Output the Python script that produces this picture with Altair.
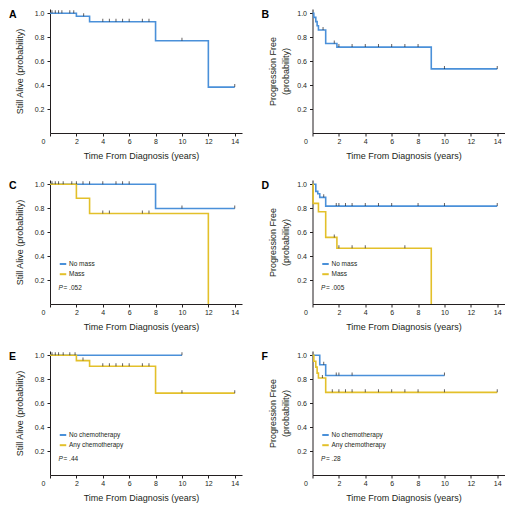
import altair as alt
import pandas as pd

FONT = "Liberation Sans, Arial, sans-serif"
BLUE = "#4a90d9"
YELLOW = "#e3c02a"
INK = "#231f20"

X_TICKS = [0, 2, 4, 6, 8, 10, 12, 14]
Y_TICKS = [0.2, 0.4, 0.6, 0.8, 1.0]
X_TITLE = "Time From Diagnosis (years)"
OS_TITLE = "Still Alive (probability)"
PFS_TITLE = ["Progression Free", "(probability)"]

# ---- Panel A: overall survival
A_time = [0, 2, 3, 8, 12, 14]
A_surv = [1.0, 0.975, 0.928, 0.77, 0.383, 0.383]
A_cens = [0.15, 0.4, 0.65, 0.9, 1.5, 1.8, 2.55, 4, 4.5, 5, 5.5, 6, 7, 7.5, 10, 14]

# ---- Panel B: overall progression-free
B_time = [0, 0.1, 0.25, 0.35, 0.45, 1.0, 1.85, 9, 14]
B_surv = [1.0, 0.965, 0.93, 0.895, 0.86, 0.747, 0.717, 0.535, 0.535]
B_cens = [0.8, 1.65, 2, 3, 4, 5, 6, 7, 8, 10, 14]

# ---- Panel C: survival by mass
C_groups = ["No mass", "Mass"]
C_nomass_time = [0, 8, 14]
C_nomass_surv = [1.0, 0.797, 0.797]
C_nomass_cens = [0.15, 0.4, 0.65, 1.0, 1.65, 2.0, 2.5, 3, 4, 5, 5.5, 6, 10, 14]
C_mass_time = [0, 2, 3, 12]
C_mass_surv = [1.0, 0.883, 0.756, 0.0]
C_mass_cens = [4, 4.5, 7, 7.5]
C_p = ".052"

# ---- Panel D: progression-free by mass
D_nomass_time = [0, 0.25, 0.4, 0.55, 1.0, 14]
D_nomass_surv = [1.0, 0.94, 0.92, 0.89, 0.817, 0.817]
D_nomass_cens = [0.85, 1.8, 2, 2.5, 3, 4, 5, 6, 8, 10, 14]
D_mass_time = [0, 0.05, 0.45, 1.0, 1.85, 9]
D_mass_surv = [1.0, 0.84, 0.77, 0.556, 0.465, 0.0]
D_mass_cens = [1.65, 2, 3, 4, 7]
D_p = ".005"

# ---- Panel E: survival by chemotherapy
E_groups = ["No chemotherapy", "Any chemotherapy"]
E_nochemo_time = [0, 10]
E_nochemo_surv = [1.0, 1.0]
E_nochemo_cens = [0.4, 1.0, 10]
E_chemo_time = [0, 2, 3, 8, 14]
E_chemo_surv = [1.0, 0.955, 0.908, 0.683, 0.683]
E_chemo_cens = [0.15, 0.65, 1.5, 1.9, 2.5, 4, 4.5, 5, 5.5, 6, 7, 7.5, 10, 14]
E_p = ".44"

# ---- Panel F: progression-free by chemotherapy
F_nochemo_time = [0, 0.55, 1.0, 10]
F_nochemo_surv = [1.0, 0.92, 0.83, 0.83]
F_nochemo_cens = [0.85, 1.8, 2, 3, 10]
F_chemo_time = [0, 0.1, 0.25, 0.35, 0.45, 1.0, 14]
F_chemo_surv = [1.0, 0.95, 0.9, 0.85, 0.81, 0.69, 0.69]
F_chemo_cens = [0.75, 1.5, 2, 2.5, 3, 4, 5, 6, 7, 8, 10, 14]
F_p = ".28"

W, H = 192, 124
XDOM = [0, 14.55]
YDOM = [0, 1.035]


def step_value(c, times, survs):
    s = survs[0]
    for t, v in zip(times, survs):
        if t <= c:
            s = v
    return s


def build(series):
    lines, ticks = [], []
    for name, times, survs, cens in series:
        lines.append(pd.DataFrame({"t": times, "s": survs, "g": name}))
        ticks.append(pd.DataFrame({"t": cens,
                                   "s": [step_value(c, times, survs) for c in cens],
                                   "g": name}))
    return pd.concat(lines, ignore_index=True), pd.concat(ticks, ignore_index=True)


def panel(series, label, ytitle, label_dx, ypad, groups=None, pval=None):
    line_df, tick_df = build(series)
    xenc = alt.X("t:Q", scale=alt.Scale(domain=XDOM, nice=False, zero=False),
                 axis=alt.Axis(values=X_TICKS, title=X_TITLE, format="d",
                               labelOverlap=False, labelFlush=False,
                               labelPadding=1, titlePadding=7, titleX=91,
                               labelOffset={"expr": "datum.value == 0 ? -7 : 0"}))
    yenc = alt.Y("s:Q", scale=alt.Scale(domain=YDOM, nice=False, zero=False),
                 axis=alt.Axis(values=Y_TICKS, title=ytitle, format=".1f",
                               labelOverlap=False, labelFlush=False,
                               labelPadding=3, titlePadding=ypad,
                               titleLineHeight=13))
    if groups is None:
        color = alt.value(BLUE)
    else:
        color = alt.Color("g:N", scale=alt.Scale(domain=groups, range=[BLUE, YELLOW]),
                          legend=alt.Legend(orient="none", legendX=8.5, legendY=79.5,
                                            title=None, symbolType="stroke",
                                            symbolSize=42, symbolStrokeWidth=2,
                                            labelFont=FONT, labelFontSize=6.5,
                                            labelColor=INK, labelOffset=1.5,
                                            rowPadding=1.2, padding=0))
    line = alt.Chart(line_df).mark_line(interpolate="step-after", strokeWidth=1.6).encode(
        x=xenc, y=yenc, color=color, detail="g:N")
    ticks = alt.Chart(tick_df).mark_tick(orient="vertical", size=3, thickness=1,
                                         color=INK, yOffset=-1.5).encode(x=xenc, y=yenc)
    lab = alt.Chart(pd.DataFrame({"lab": [label]})).mark_text(
        font=FONT, fontSize=10.5, fontWeight="bold", align="left",
        baseline="middle", color="#000").encode(
        x=alt.value(label_dx), y=alt.value(5.5), text="lab:N")
    layers = [line, ticks, lab]
    if pval is not None:
        p1 = alt.Chart(pd.DataFrame({"p": ["P"]})).mark_text(
            font=FONT, fontSize=6.5, fontStyle="italic", align="left",
            baseline="middle", color=INK).encode(
            x=alt.value(8.5), y=alt.value(107.5), text="p:N")
        p2 = alt.Chart(pd.DataFrame({"p": ["= " + pval]})).mark_text(
            font=FONT, fontSize=6.5, align="left", baseline="middle",
            color=INK).encode(x=alt.value(13.5), y=alt.value(107.5), text="p:N")
        layers += [p1, p2]
    return alt.layer(*layers).properties(width=W, height=H)


pA = panel([("all", A_time, A_surv, A_cens)], "A", OS_TITLE, -41, 10)
pB = panel([("all", B_time, B_surv, B_cens)], "B", PFS_TITLE, -51, 6.5)
pC = panel([(C_groups[0], C_nomass_time, C_nomass_surv, C_nomass_cens),
            (C_groups[1], C_mass_time, C_mass_surv, C_mass_cens)],
           "C", OS_TITLE, -41, 10, C_groups, C_p)
pD = panel([(C_groups[0], D_nomass_time, D_nomass_surv, D_nomass_cens),
            (C_groups[1], D_mass_time, D_mass_surv, D_mass_cens)],
           "D", PFS_TITLE, -51, 6.5, C_groups, D_p)
pE = panel([(E_groups[0], E_nochemo_time, E_nochemo_surv, E_nochemo_cens),
            (E_groups[1], E_chemo_time, E_chemo_surv, E_chemo_cens)],
           "E", OS_TITLE, -41, 10, E_groups, E_p)
pF = panel([(E_groups[0], F_nochemo_time, F_nochemo_surv, F_nochemo_cens),
            (E_groups[1], F_chemo_time, F_chemo_surv, F_chemo_cens)],
           "F", PFS_TITLE, -51, 6.5, E_groups, F_p)

chart = alt.concat(pA, pB, pC, pD, pE, pF, columns=2,
                   spacing=alt.RowColnumber(row=47, column=70.5),
                   bounds="flush").resolve_scale(
    color="independent", x="independent", y="independent").resolve_legend(
    color="independent").properties(padding=0).configure_view(
    stroke="transparent").configure_axis(
    grid=False, domainColor=INK, domainWidth=1, tickColor=INK, tickSize=3,
    tickWidth=1, labelFont=FONT, labelFontSize=7, labelColor=INK,
    labelOverlap=False, titleFont=FONT, titleFontSize=9,
    titleFontWeight="normal", titleColor=INK)

chart.save("out.html", embed_options={"renderer": "svg", "actions": False})
